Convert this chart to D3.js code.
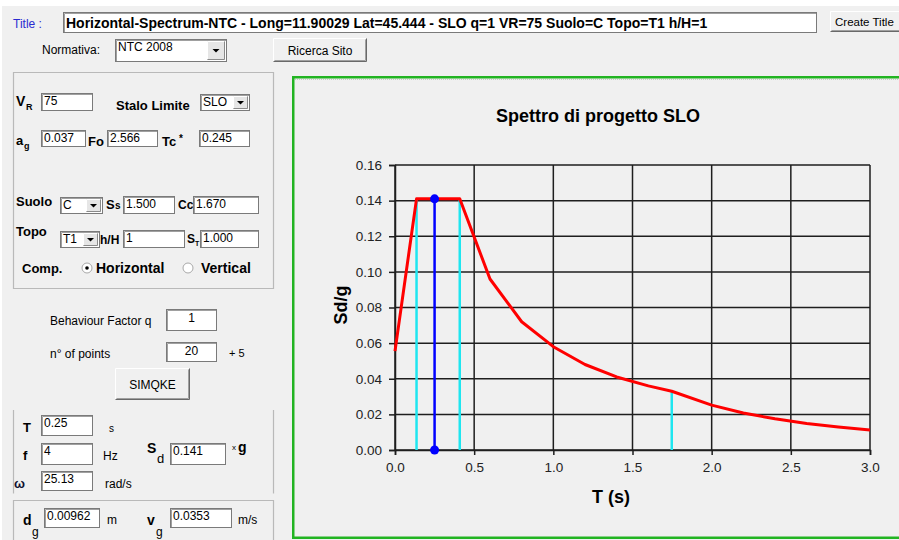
<!DOCTYPE html>
<html>
<head>
<meta charset="utf-8">
<script src="https://cdn.jsdelivr.net/npm/d3@7"></script>
<style>
  html, body { margin: 0; padding: 0; background: #ffffff; }
  svg { display: block; }
  text { font-family: "Liberation Sans", Arial, sans-serif; }
</style>
</head>
<body>
<svg id="app" width="899" height="540"></svg>
<script>
// ---- Spectrum data (period T in s, pseudo-acceleration Sd in g) ----
const periods  = [0, 0.136, 0.409, 0.6, 0.8, 1.0, 1.2, 1.4, 1.6, 1.748, 2.0, 2.2, 2.4, 2.6, 2.8, 3.0];
const sdValues = [0.0555, 0.141, 0.141, 0.096, 0.072, 0.058, 0.048, 0.041, 0.036, 0.033, 0.0252, 0.0208, 0.0175, 0.0149, 0.0129, 0.0112];

// corner periods TB, TC, TD and their ordinates
const cornerPeriods = [0.136, 0.409, 1.748];
const cornerValues  = [0.141, 0.141, 0.033];

// selected period and its ordinate
const selectedPeriod = [0.25];
const selectedValue  = [0.141];

const xTickValues = [0, 0.5, 1.0, 1.5, 2.0, 2.5, 3.0];
const yTickValues = [0, 0.02, 0.04, 0.06, 0.08, 0.10, 0.12, 0.14, 0.16];

const chartTitle = "Spettro di progetto SLO";
const xAxisLabel = "T (s)";
const yAxisLabel = "Sd/g";

// ---- form values ----
const titleText = "Horizontal-Spectrum-NTC - Long=11.90029 Lat=45.444 - SLO q=1 VR=75 Suolo=C Topo=T1 h/H=1";
const fieldValues = {
  normativa: "NTC 2008", vr: "75", stato: "SLO", ag: "0.037", fo: "2.566", tc: "0.245",
  suolo: "C", ss: "1.500", cc: "1.670", topo: "T1", hH: "1", st: "1.000",
  q: "1", nPoints: "20", T: "0.25", f: "4", sd: "0.141", omega: "25.13", dg: "0.00962", vg: "0.0353"
};

const svg = d3.select("#app");
const BG = "#f0f0f0";

// window background
svg.append("rect").attr("x", 0).attr("y", 0).attr("width", 899).attr("height", 540).attr("fill", "#ffffff");
svg.append("rect").attr("x", 2).attr("y", 6).attr("width", 897).attr("height", 534).attr("fill", BG);

// ---- widget helpers ----
function label(x, y, txt, opts = {}) {
  return svg.append("text")
    .attr("x", x).attr("y", y)
    .attr("font-size", opts.size || 12)
    .attr("font-weight", opts.bold ? "bold" : "normal")
    .attr("fill", opts.color || "#000")
    .attr("text-anchor", opts.anchor || "start")
    .text(txt);
}
function textbox(x, y, w, h, value, opts = {}) {
  const g = svg.append("g");
  g.append("rect").attr("x", x + 0.5).attr("y", y + 0.5).attr("width", w - 1).attr("height", h - 1)
    .attr("fill", "#ffffff").attr("stroke", "#7a7a7a").attr("stroke-width", 1);
  g.append("path").attr("d", `M${x + 1.5},${y + h - 1} V${y + 1.5} H${x + w - 1}`)
    .attr("fill", "none").attr("stroke", "#a0a0a0").attr("stroke-width", 1);
  if (value !== undefined) {
    g.append("text")
      .attr("x", opts.center ? x + w / 2 : x + 3)
      .attr("y", y + (opts.baseline || 12))
      .attr("font-size", opts.size || 12)
      .attr("font-weight", opts.bold ? "bold" : "normal")
      .attr("text-anchor", opts.center ? "middle" : "start")
      .attr("fill", "#000")
      .text(value);
  }
  return g;
}
function dropArrow(x, y, w, h) {
  svg.append("rect").attr("x", x).attr("y", y).attr("width", w).attr("height", h).attr("fill", "#e6e6e6");
  svg.append("path").attr("d", `M${x + 0.5},${y + h - 0.5} H${x + w - 0.5} V${y + 0.5}`)
    .attr("fill", "none").attr("stroke", "#8a8a8a");
  svg.append("path").attr("d", `M${x + 0.5},${y + h - 1} V${y + 0.5} H${x + w - 1}`)
    .attr("fill", "none").attr("stroke", "#ffffff");
  const cx = x + w / 2, cy = y + h / 2;
  svg.append("path").attr("d", `M${cx - 3.5},${cy - 1.5} L${cx + 3.5},${cy - 1.5} L${cx},${cy + 2} Z`).attr("fill", "#000");
}
function select(x, y, w, h, value, arrowW) {
  textbox(x, y, w, h, value);
  dropArrow(x + w - arrowW - 2, y + 2, arrowW, h - 4);
}
function button(x, y, w, h, txt, opts = {}) {
  svg.append("rect").attr("x", x).attr("y", y).attr("width", w).attr("height", h).attr("fill", BG);
  svg.append("path").attr("d", `M${x + 0.5},${y + h - 1} V${y + 0.5} H${x + w - 1}`).attr("fill", "none").attr("stroke", "#ffffff");
  svg.append("path").attr("d", `M${x + 0.5},${y + h - 0.5} H${x + w - 0.5} V${y + 0.5}`).attr("fill", "none").attr("stroke", "#696969");
  svg.append("path").attr("d", `M${x + 1.5},${y + h - 1.5} H${x + w - 1.5} V${y + 1.5}`).attr("fill", "none").attr("stroke", "#a0a0a0");
  if (opts.left) label(x + opts.left, y + h / 2 + 4.5, txt, { size: opts.size || 12 });
  else label(x + w / 2, y + h / 2 + 4.5, txt, { anchor: "middle", size: opts.size || 12 });
}
function radio(cx, cy, checked) {
  svg.append("circle").attr("cx", cx).attr("cy", cy).attr("r", 5).attr("fill", "#ffffff").attr("stroke", "#a8a8a8");
  if (checked) svg.append("circle").attr("cx", cx).attr("cy", cy).attr("r", 1.8).attr("fill", "#000");
}
function groupLine(d) {
  svg.append("path").attr("d", d).attr("fill", "none").attr("stroke", "#b9b9b9").attr("stroke-width", 1.2);
}

// ---- header row ----
label(13, 28, "Title :", { color: "#2b2bd0", size: 12 });
textbox(63, 12, 754, 21, titleText, { bold: true, size: 14, baseline: 15.5 });
button(830, 11, 80, 21, "Create Title", { left: 5, size: 11.5 });
label(42, 54, "Normativa:", { size: 12 });
select(115, 39, 112, 23, fieldValues.normativa, 18);
button(273, 38, 94, 24, "Ricerca Sito");

// ---- site parameters group ----
groupLine("M13.5,288.5 V72.5 H273.5 V288.5 Z");

label(16, 106, "V", { bold: true, size: 14 });
label(26, 110, "R", { bold: true, size: 9 });
textbox(41, 93, 52, 18, fieldValues.vr);
label(116, 110, "Stalo Limite", { bold: true, size: 13 });
select(200, 94, 50, 17, fieldValues.stato, 15);

label(16, 145, "a", { bold: true, size: 13 });
label(24, 149, "g", { bold: true, size: 9 });
textbox(41, 130, 45, 17, fieldValues.ag);
label(88, 146, "Fo", { bold: true, size: 13 });
textbox(107, 130, 51, 17, fieldValues.fo);
label(162, 146, "Tc", { bold: true, size: 13 });
label(179, 142, "*", { bold: true, size: 10 });
textbox(199, 130, 51, 17, fieldValues.tc);

label(16, 206, "Suolo", { bold: true, size: 13 });
select(60, 197, 43, 17, fieldValues.suolo, 15);
label(106, 209, "S", { bold: true, size: 13 });
label(115, 209, "s", { bold: true, size: 10 });
textbox(123, 196, 52, 18, fieldValues.ss);
label(178, 209, "Cc", { bold: true, size: 12 });
textbox(193, 196, 66, 18, fieldValues.cc);

label(16, 236, "Topo", { bold: true, size: 13 });
select(60, 231, 40, 17, fieldValues.topo, 15);
label(100, 244, "h/H", { bold: true, size: 12 });
textbox(123, 230, 62, 18, fieldValues.hH);
label(187, 243, "S", { bold: true, size: 12 });
label(195, 246, "T", { bold: true, size: 7 });
textbox(200, 230, 59, 18, fieldValues.st);

label(22, 273, "Comp.", { bold: true, size: 13 });
radio(87, 268, true);
label(96, 273, "Horizontal", { bold: true, size: 14 });
radio(188, 268, false);
label(201, 273, "Vertical", { bold: true, size: 14 });

// ---- SIMQKE controls ----
label(50, 325, "Behaviour Factor q", { size: 12 });
textbox(166, 309, 51, 22, fieldValues.q, { center: true, baseline: 13 });
label(50, 358, "n\u00b0 of points", { size: 12 });
textbox(166, 342, 51, 20, fieldValues.nPoints, { center: true, baseline: 13 });
label(229, 357, "+ 5", { size: 11 });
button(115, 368, 75, 32, "SIMQKE");

// ---- selected period group ----
groupLine("M13.5,410 V493.5 M273.5,410 V493.5");
label(23, 432, "T", { bold: true, size: 13 });
textbox(41, 415, 52, 21, fieldValues.T);
label(109, 432, "s", { size: 10 });
label(23, 460, "f", { bold: true, size: 13 });
textbox(41, 443, 52, 22, fieldValues.f);
label(103, 460, "Hz", { size: 12 });
label(147, 453, "S", { bold: true, size: 14 });
label(157, 463, "d", { size: 13 });
textbox(170, 443, 56, 22, fieldValues.sd);
label(232, 450, "x", { size: 8 });
label(238, 452, "g", { bold: true, size: 14 });
label(14, 488, "\u03c9", { bold: true, size: 13, color: "#101030" });
textbox(41, 471, 52, 20, fieldValues.omega);
label(105, 488, "rad/s", { size: 12 });

// ---- ground motion group ----
groupLine("M13.5,545 V500.5 H273.5 V545");
label(23, 525, "d", { bold: true, size: 14 });
label(32, 536, "g", { size: 12 });
textbox(44, 508, 56, 20, fieldValues.dg);
label(107, 524, "m", { size: 12 });
label(147, 525, "v", { bold: true, size: 14 });
label(156, 536, "g", { size: 12 });
textbox(170, 508, 62, 20, fieldValues.vg);
label(238, 524, "m/s", { size: 12 });

// ---- chart panel frame ----
svg.append("rect").attr("x", 293.25).attr("y", 77.25).attr("width", 620).attr("height", 460.5)
  .attr("fill", BG).attr("stroke", "#22b422").attr("stroke-width", 2.5);
svg.append("line").attr("x1", 295).attr("x2", 899).attr("y1", 79.5).attr("y2", 79.5)
  .attr("stroke", "#c8c8c8").attr("stroke-width", 1).attr("stroke-dasharray", "1,1");

// ---- spectrum chart ----
const plot = { left: 395, right: 870, top: 165, bottom: 450 };
const x = d3.scaleLinear().domain([0, 3]).range([plot.left, plot.right]);
const y = d3.scaleLinear().domain([0, 0.16]).range([plot.bottom, plot.top]);

const chart = svg.append("g");

// grid
chart.append("g").selectAll("line.v").data(xTickValues).join("line")
  .attr("x1", d => x(d)).attr("x2", d => x(d)).attr("y1", plot.top).attr("y2", plot.bottom)
  .attr("stroke", "#1e1e1e").attr("stroke-width", 1.5);
chart.append("g").selectAll("line.h").data(yTickValues).join("line")
  .attr("x1", plot.left).attr("x2", plot.right).attr("y1", d => y(d)).attr("y2", d => y(d))
  .attr("stroke", "#1e1e1e").attr("stroke-width", 1.5);

// axes
const xAxis = chart.append("g").attr("transform", `translate(0,${plot.bottom})`)
  .call(d3.axisBottom(x).tickValues(xTickValues).tickFormat(d3.format(".1f")).tickSize(5).tickPadding(7));
const yAxis = chart.append("g").attr("transform", `translate(${plot.left},0)`)
  .call(d3.axisLeft(y).tickValues(yTickValues).tickFormat(d3.format(".2f")).tickSize(6).tickPadding(7));
[xAxis, yAxis].forEach(a => {
  a.select(".domain").attr("stroke", "#1e1e1e").attr("stroke-width", 1.5);
  a.selectAll(".tick line").attr("stroke", "#1e1e1e").attr("stroke-width", 1.5);
  a.selectAll(".tick text").attr("font-family", "'Liberation Sans', Arial, sans-serif")
    .attr("font-size", 13.5).attr("fill", "#222");
});

// corner-period verticals
chart.append("g").selectAll("line").data(cornerPeriods).join("line")
  .attr("x1", d => x(d)).attr("x2", d => x(d))
  .attr("y1", y(0)).attr("y2", (d, i) => y(cornerValues[i]))
  .attr("stroke", "#1ee6f0").attr("stroke-width", 2.5);

// spectrum curve
const pts = periods.map((t, i) => [t, sdValues[i]]);
chart.append("path").datum(pts)
  .attr("d", d3.line().x(d => x(d[0])).y(d => y(d[1])))
  .attr("fill", "none").attr("stroke", "#ff0000").attr("stroke-width", 3).attr("stroke-linejoin", "round");

// selected period stem
selectedPeriod.forEach((t, i) => {
  chart.append("line").attr("x1", x(t)).attr("x2", x(t)).attr("y1", y(0)).attr("y2", y(selectedValue[i]))
    .attr("stroke", "#0000ff").attr("stroke-width", 2.5);
  chart.append("circle").attr("cx", x(t)).attr("cy", y(selectedValue[i])).attr("r", 4.5).attr("fill", "#0000ff");
  chart.append("circle").attr("cx", x(t)).attr("cy", y(0)).attr("r", 4.5).attr("fill", "#0000ff");
});

// titles
svg.append("text").attr("x", 598).attr("y", 122).attr("text-anchor", "middle")
  .attr("font-size", 18).attr("font-weight", "bold").text(chartTitle);
svg.append("text").attr("x", 611).attr("y", 503).attr("text-anchor", "middle")
  .attr("font-size", 18).attr("font-weight", "bold").text(xAxisLabel);
svg.append("text").attr("transform", "translate(347,305) rotate(-90)").attr("text-anchor", "middle")
  .attr("font-size", 18).attr("font-weight", "bold").text(yAxisLabel);
</script>
</body>
</html>
